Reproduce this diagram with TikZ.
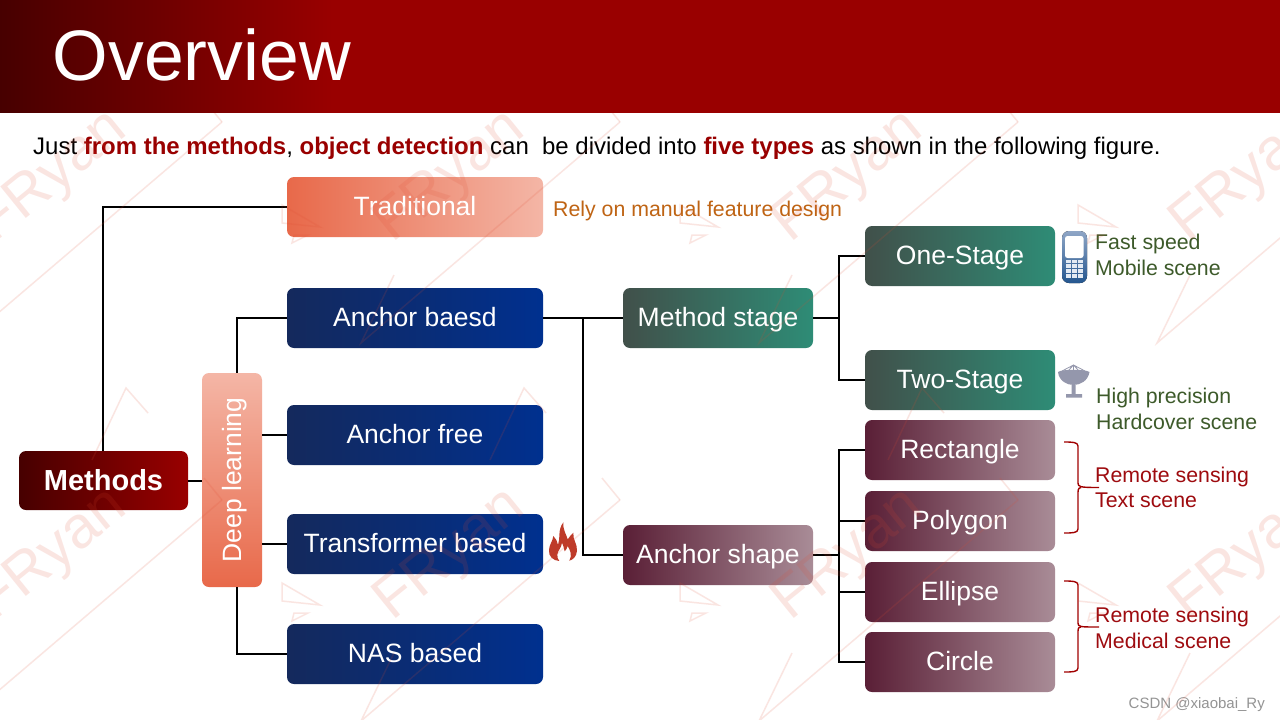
\documentclass[tikz,border=0pt]{standalone}
\usepackage{fontspec}
\setmainfont{Liberation Sans}
\usetikzlibrary{calc}
\definecolor{hdark}{HTML}{470000}
\definecolor{hred}{HTML}{990000}
\definecolor{wine}{HTML}{A00000}
\definecolor{orangetxt}{HTML}{BF6414}
\definecolor{greentxt}{HTML}{3D5A2A}
\definecolor{redtxt}{HTML}{9E0B0F}
\definecolor{wm}{HTML}{E04A30}
\definecolor{bleft}{HTML}{14295C}
\definecolor{bmid}{HTML}{0A2C74}
\definecolor{bright}{HTML}{00308F}
\definecolor{pdark}{HTML}{E8694A}
\definecolor{plight}{HTML}{F4B6A6}
\definecolor{gleft}{HTML}{41504A}
\definecolor{gright}{HTML}{2E8C76}
\definecolor{mleft}{HTML}{5A1F36}
\definecolor{mright}{HTML}{A98C97}
\definecolor{phonetop}{HTML}{8FA6C6}
\definecolor{phonebot}{HTML}{24568F}
\definecolor{keyw}{HTML}{E4EBF4}
\definecolor{dish}{HTML}{9497AC}
\definecolor{flame}{HTML}{BE3B2A}
\pgfdeclarehorizontalshading{hdrshade}{100bp}{color(0bp)=(hdark); color(25bp)=(hdark); color(38bp)=(hred); color(100bp)=(hred)}
\tikzset{
  x=1pt,y=-1pt,
  box/.style={rounded corners=7pt,inner sep=0pt,text=white,align=center,font=\fontsize{26.5}{32}\selectfont,minimum height=60pt},
  linebox/.style={box,text height=17pt,text depth=0pt},
  bluebox/.style={linebox,minimum width=256pt,left color=bleft,middle color=bmid,right color=bright},
  peachbox/.style={linebox,minimum width=256pt,left color=pdark,right color=plight},
  greenbox/.style={linebox,minimum width=190pt,left color=gleft,right color=gright},
  maroonbox/.style={linebox,minimum width=190pt,left color=mleft,right color=mright},
  link/.style={draw=black,line width=2pt},
  note/.style={inner sep=0pt,anchor=base west,font=\fontsize{21.3}{24}\selectfont},
  bracket/.style={draw=wine,line width=1.4pt,line join=round},
  wmline/.style={draw=wm,opacity=.14,line width=1.5pt},
}
\begin{document}
\begin{tikzpicture}
\useasboundingbox (0,0) rectangle (1280,720);
\clip (0,0) rectangle (1280,720);
\fill[white] (0,0) rectangle (1280,720);
% header
\fill[shading=hdrshade] (0,0) rectangle (1280,112.5);
\node[anchor=base west,inner sep=0pt,text=white,font=\fontsize{71.5}{80}\selectfont] (title) at (52.5,80) {Overview};
\node[anchor=base west,inner sep=0pt,font=\fontsize{23.98}{28}\selectfont] (intro) at (33,154) {Just \textcolor{hred}{\textbf{from the methods}}, \textcolor{hred}{\textbf{object detection}} can\ \ be divided into \textcolor{hred}{\textbf{five types}} as shown in the following figure.};
% nodes
\node[linebox,text height=20pt,minimum width=169pt,minimum height=59pt,left color=hdark,middle color=hred!85!black,right color=hred,font=\fontsize{29}{34}\selectfont\bfseries] (methods) at (103.5,480.5) {Methods};
\node[box,minimum width=60pt,minimum height=214pt,bottom color=pdark,top color=plight] (deep) at (232,480) {\hspace*{5pt}\rotatebox{90}{Deep learning}};
\node[peachbox] (trad) at (415,207) {Traditional};
\node[bluebox] (ab) at (415,318) {Anchor baesd};
\node[bluebox] (af) at (415,435) {Anchor free};
\node[bluebox] (tb) at (415,544) {Transformer based};
\node[bluebox] (nas) at (415,654) {NAS based};
\node[greenbox] (ms) at (718,318) {Method stage};
\node[maroonbox] (as) at (718,555) {Anchor shape};
\node[greenbox] (one) at (960,256) {One-Stage};
\node[greenbox] (two) at (960,380) {Two-Stage};
\node[maroonbox] (rect) at (960,450) {Rectangle};
\node[maroonbox] (poly) at (960,521) {Polygon};
\node[maroonbox] (elli) at (960,592) {Ellipse};
\node[maroonbox] (circ) at (960,662) {Circle};
% connectors
\coordinate (mtop) at ($(methods.north)+(-.5,0)$);
\coordinate (deepn) at ($(deep.north)+(5,0)$);
\coordinate (deeps) at ($(deep.south)+(5,0)$);
\coordinate (t1) at ($(ab.east)+(40,0)$);
\coordinate (t2) at ($(ms.east)+(26,0)$);
\coordinate (t3) at ($(as.east)+(26,0)$);
\draw[link] (mtop) |- (trad.west);
\draw[link] (methods.east) -- (deep.west |- methods.east);
\draw[link] (deepn) |- (ab.west);
\draw[link] (deep.east |- af.west) -- (af.west);
\draw[link] (deep.east |- tb.west) -- (tb.west);
\draw[link] (deeps) |- (nas.west);
\draw[link] (ab.east) -- (ms.west);
\draw[link] (t1) |- (as.west);
\draw[link] (ms.east) -- (t2);
\draw[link] (one.west) -| (t2) |- (two.west);
\draw[link] (as.east) -- (t3);
\draw[link] (rect.west) -| (t3) |- (circ.west);
\draw[link] (poly.west) -- (poly.west -| t3);
\draw[link] (elli.west) -- (elli.west -| t3);
% notes
\node[note,text=orangetxt] (n0) at (553,216) {Rely on manual feature design};
\node[note,text=greentxt] (n1) at (1095,249) {Fast speed};
\node[note,text=greentxt] (n2) at (1095,275) {Mobile scene};
\node[note,text=greentxt] (n3) at (1096,403) {High precision};
\node[note,text=greentxt] (n4) at (1096,429) {Hardcover scene};
\node[note,text=redtxt] (n5) at (1095,482) {Remote sensing};
\node[note,text=redtxt] (n6) at (1095,507) {Text scene};
\node[note,text=redtxt] (n7) at (1095,622) {Remote sensing};
\node[note,text=redtxt] (n8) at (1095,648) {Medical scene};
\node[inner sep=0pt,anchor=base east,text=black!42,font=\fontsize{15}{18}\selectfont] (csdn) at (1265,708) {CSDN @xiaobai\_Ry};
% brackets
\draw[bracket] (1064,442) .. controls (1072,442) and (1078,442) .. (1078,446) -- (1078,483) .. controls (1078,487) and (1080,487.5) .. (1099,487.5);
\draw[bracket] (1064,533) .. controls (1072,533) and (1078,533) .. (1078,529) -- (1078,492) .. controls (1078,488) and (1080,487.5) .. (1081,487.5);
\draw[bracket] (1064,581) .. controls (1072,581) and (1078,581) .. (1078,585) -- (1078,623) .. controls (1078,627) and (1080,627) .. (1099,627);
\draw[bracket] (1064,672) .. controls (1072,672) and (1078,672) .. (1078,668) -- (1078,631) .. controls (1078,627) and (1080,627) .. (1081,627);
% phone icon
\fill[rounded corners=7pt,top color=phonetop,bottom color=phonebot] (1062,231) rectangle (1087,283);
\fill[white,rounded corners=2.5pt] (1065,236) rectangle (1083.5,258);
\foreach \c in {0,1,2}{\foreach \r in {0,1,2,3}{
  \fill[keyw] ({1065.5+\c*6.3},{259.5+\r*4.9}) rectangle ++(5,3.7);
}}
% dish icon
\fill[dish] (1058,372) .. controls (1062,369) and (1085,369) .. (1089.5,372) .. controls (1088,381) and (1080,385) .. (1073.5,385) .. controls (1067,385) and (1059,381) .. (1058,372) -- cycle;
\draw[dish,line width=.8pt] (1062,371) -- (1073.5,365) -- (1085,371) (1073.5,365) -- (1073.5,371) (1068,371) -- (1073.5,365) -- (1079,371);
\fill[dish] (1071.5,385) rectangle (1075.5,394) (1066,394) rectangle (1082,397.5);
% flame icon
\begin{scope}[shift={(530,500)},x=0.3333pt,y=-0.3333pt]
\fill[flame]
 (88,183) .. controls (70,182) and (55,170) .. (57,150) .. controls (58,132) and (68,125) .. (70,108)
 .. controls (78,115) and (82,125) .. (84,135) .. controls (92,115) and (82,90) .. (100,67)
 .. controls (98,90) and (110,105) .. (113,118) .. controls (118,112) and (122,105) .. (130,98)
 .. controls (128,120) and (142,130) .. (141,152) .. controls (140,170) and (128,180) .. (118,182)
 .. controls (128,165) and (120,150) .. (113,138) .. controls (111,146) and (108,150) .. (104,154)
 .. controls (102,145) and (100,135) .. (96,128) .. controls (94,145) and (84,150) .. (82,163) .. controls (81,172) and (84,178) .. (88,183) -- cycle;
\end{scope}
% watermark, faint, over everything below the header
\begin{scope}
\clip (0,113) rectangle (1280,720);
\foreach \ax in {-176,222,620,1018,1416}{
 \foreach \ay in {122,500}{
  \begin{scope}[shift={(\ax,\ay)}]
   \draw[wmline] (0,0) -- (-259,221) coordinate (wt) -- ++(33,-68);
   \draw[wmline] (0,0) -- (-18,-22);
   \draw[wmline] (-74,-87) -- (-96,-112) -- (-130,-40);
   \draw[wmline] (60,83) -- (98,105) -- (60,101) -- cycle;
   \draw[wmline] (70,121) -- (86,113) -- (72,113) -- cycle;
   \node[rotate=39,text=wm,text opacity=.14,font=\fontsize{59}{64}\selectfont,inner sep=0pt] (wmtext) at (-169,56) {FRyan};
  \end{scope}
 }
}
\end{scope}
\end{tikzpicture}
\end{document}
